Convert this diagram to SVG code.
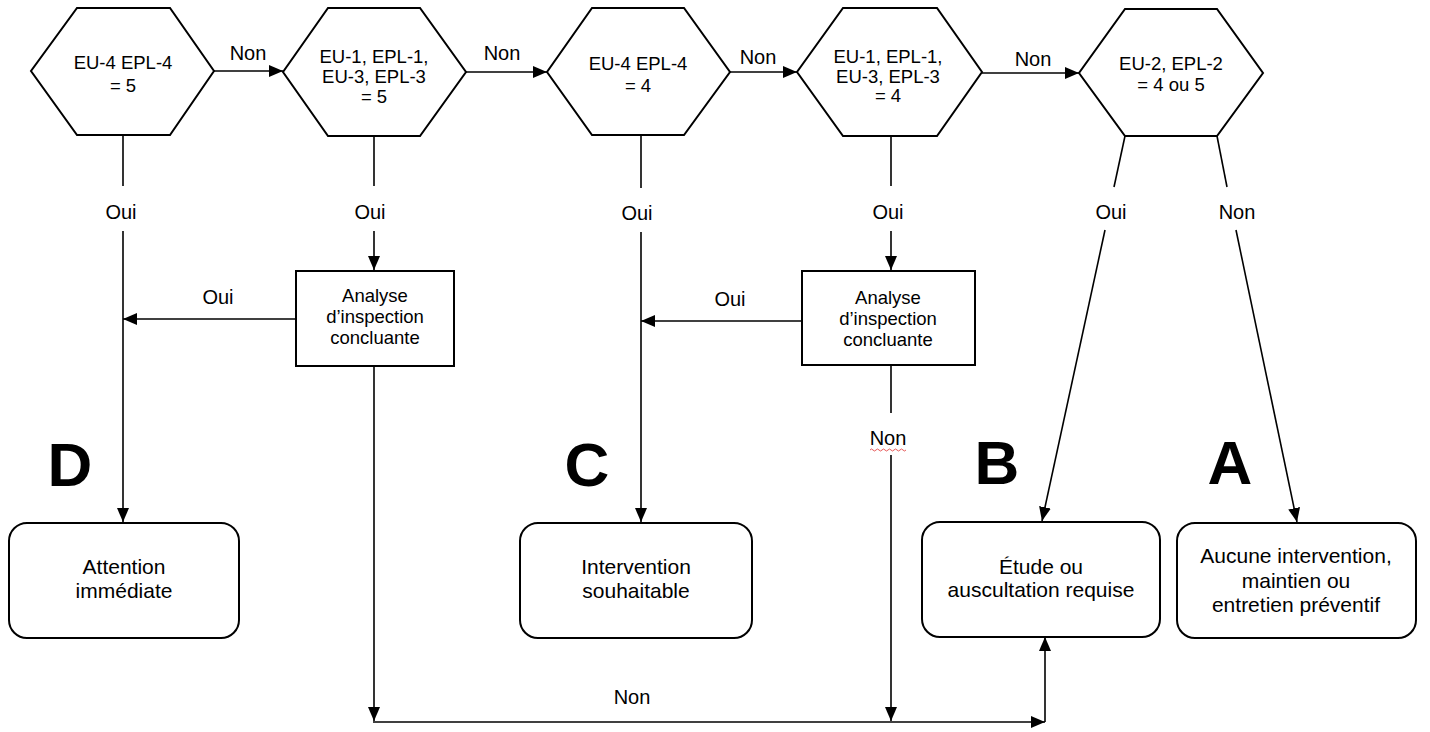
<svg xmlns="http://www.w3.org/2000/svg" width="1430" height="732" viewBox="0 0 1430 732">
<defs>
<marker id="ah" viewBox="0 0 14 12" refX="14" refY="6" markerWidth="14" markerHeight="12" markerUnits="userSpaceOnUse" orient="auto">
<path d="M0,0 L14,6 L0,12 Z" fill="#000"/>
</marker>
<style>
.shape{fill:#fff;stroke:#000;stroke-width:2}
.ln{fill:none;stroke:#000;stroke-width:1.6}
.arr{fill:none;stroke:#000;stroke-width:1.6;marker-end:url(#ah)}
text{font-family:"Liberation Sans",Arial,sans-serif;fill:#000;text-anchor:middle}
.t{font-size:18.5px}
.b{font-size:21px}
.lbl{font-size:20px}
.big{font-size:62px;font-weight:bold}
</style>
</defs>
<rect width="1430" height="732" fill="#fff"/>

<g id="connectors">
<line class="arr" x1="214" y1="71" x2="283" y2="71"/>
<line class="arr" x1="466" y1="72" x2="547" y2="72"/>
<line class="arr" x1="730" y1="72" x2="797" y2="72"/>
<line class="arr" x1="982" y1="73" x2="1079" y2="73"/>
<text class="lbl" x="248" y="60">Non</text>
<text class="lbl" x="502" y="60">Non</text>
<text class="lbl" x="758" y="64">Non</text>
<text class="lbl" x="1033" y="66">Non</text>

<line class="ln" x1="123" y1="135" x2="123" y2="186"/>
<line class="arr" x1="123" y1="231" x2="123" y2="522"/>
<text class="lbl" x="121" y="219">Oui</text>

<line class="ln" x1="374" y1="136" x2="374" y2="186"/>
<line class="arr" x1="374" y1="231" x2="374" y2="270"/>
<text class="lbl" x="370" y="219">Oui</text>

<line class="ln" x1="641" y1="135" x2="641" y2="188"/>
<line class="arr" x1="641" y1="232" x2="641" y2="522"/>
<text class="lbl" x="637" y="220">Oui</text>

<line class="ln" x1="891" y1="136" x2="891" y2="186"/>
<line class="arr" x1="891" y1="231" x2="891" y2="270"/>
<text class="lbl" x="888" y="219">Oui</text>

<line class="ln" x1="1125" y1="136" x2="1114" y2="187"/>
<line class="arr" x1="1105" y1="230" x2="1042" y2="521"/>
<text class="lbl" x="1111" y="219">Oui</text>

<line class="ln" x1="1217" y1="136" x2="1227" y2="187"/>
<line class="arr" x1="1236" y1="230" x2="1297" y2="522"/>
<text class="lbl" x="1237" y="219">Non</text>

<line class="arr" x1="296" y1="319" x2="123" y2="319"/>
<text class="lbl" x="218" y="304">Oui</text>
<line class="arr" x1="802" y1="321" x2="641" y2="321"/>
<text class="lbl" x="730" y="306">Oui</text>

<line class="arr" x1="374" y1="366" x2="374" y2="721"/>
<line class="ln" x1="891" y1="365" x2="891" y2="413"/>
<text class="lbl" x="888" y="445">Non</text>
<path d="M870,450 q1.5,-2 3,0 t3,0 t3,0 t3,0 t3,0 t3,0 t3,0 t3,0 t3,0 t3,0 t3,0 t3,0" fill="none" stroke="#e03030" stroke-width="0.8"/>
<line class="arr" x1="891" y1="455" x2="891" y2="721"/>
<line class="arr" x1="373" y1="722" x2="1045" y2="722"/>
<line class="arr" x1="1045" y1="722" x2="1045" y2="637"/>
<text class="lbl" x="632" y="704">Non</text>
</g>

<g id="hex1">
<polygon class="shape" points="77,8 170,8 214,71 170,135 77,135 31,71"/>
<text class="t" x="123" y="69">EU-4 EPL-4</text>
<text class="t" x="123" y="92">= 5</text>
</g>
<g id="hex2">
<polygon class="shape" points="328,8 420,8 466,72 420,136 328,136 283,72"/>
<text class="t" x="374" y="63">EU-1, EPL-1,</text>
<text class="t" x="374" y="83">EU-3, EPL-3</text>
<text class="t" x="374" y="103">= 5</text>
</g>
<g id="hex3">
<polygon class="shape" points="592,8 684,8 730,72 684,135 592,135 547,72"/>
<text class="t" x="638" y="70">EU-4 EPL-4</text>
<text class="t" x="638" y="92">= 4</text>
</g>
<g id="hex4">
<polygon class="shape" points="843,8 937,8 982,72 937,136 843,136 797,72"/>
<text class="t" x="888" y="63">EU-1, EPL-1,</text>
<text class="t" x="888" y="83">EU-3, EPL-3</text>
<text class="t" x="888" y="102">= 4</text>
</g>
<g id="hex5">
<polygon class="shape" points="1125,9 1217,9 1263,73 1217,136 1125,136 1079,73"/>
<text class="t" x="1171" y="70">EU-2, EPL-2</text>
<text class="t" x="1171" y="91">= 4 ou 5</text>
</g>

<g id="analyse1">
<rect class="shape" x="296" y="271" width="158" height="95"/>
<text class="t" x="375" y="302">Analyse</text>
<text class="t" x="375" y="323">d’inspection</text>
<text class="t" x="375" y="344">concluante</text>
</g>
<g id="analyse2">
<rect class="shape" x="802" y="271" width="173" height="94"/>
<text class="t" x="888" y="304">Analyse</text>
<text class="t" x="888" y="325">d’inspection</text>
<text class="t" x="888" y="346">concluante</text>
</g>

<g id="boxD">
<text class="big" x="70" y="486">D</text>
<rect class="shape" x="9" y="523" width="230" height="115" rx="18"/>
<text class="b" x="124" y="574">Attention</text>
<text class="b" x="124" y="598">immédiate</text>
</g>
<g id="boxC">
<text class="big" x="587" y="486">C</text>
<rect class="shape" x="520" y="523" width="232" height="115" rx="18"/>
<text class="b" x="636" y="574">Intervention</text>
<text class="b" x="636" y="598">souhaitable</text>
</g>
<g id="boxB">
<text class="big" x="997" y="484">B</text>
<rect class="shape" x="922" y="522" width="238" height="115" rx="18"/>
<text class="b" x="1041" y="574">Étude ou</text>
<text class="b" x="1041" y="597">auscultation requise</text>
</g>
<g id="boxA">
<text class="big" x="1230" y="484">A</text>
<rect class="shape" x="1177" y="523" width="239" height="115" rx="18"/>
<text class="b" x="1296" y="563">Aucune intervention,</text>
<text class="b" x="1296" y="588">maintien ou</text>
<text class="b" x="1296" y="612">entretien préventif</text>
</g>
</svg>
